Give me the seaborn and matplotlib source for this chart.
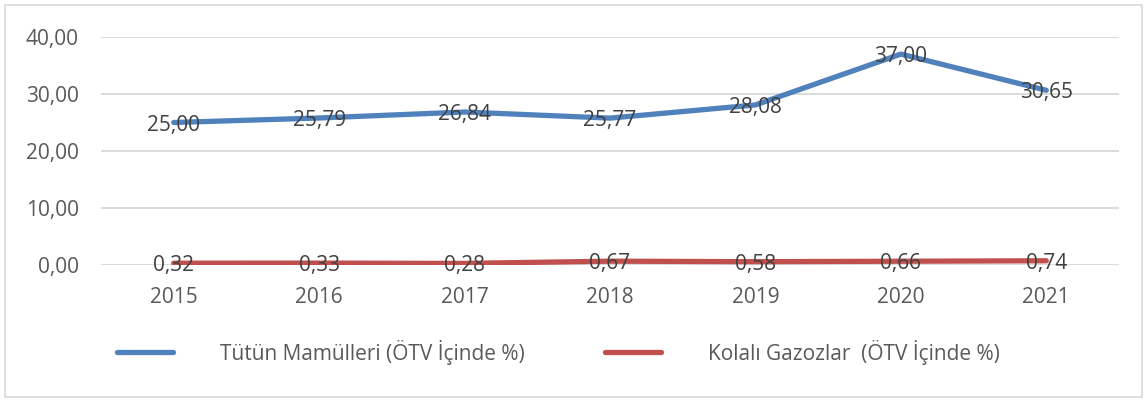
import matplotlib
matplotlib.use("Agg")
import matplotlib.pyplot as plt
import seaborn as sns
import pandas as pd
from matplotlib.patches import Rectangle

years = ["2015", "2016", "2017", "2018", "2019", "2020", "2021"]
tutun = [25.00, 25.79, 26.84, 25.77, 28.08, 37.00, 30.65]
kola = [0.32, 0.33, 0.28, 0.67, 0.58, 0.66, 0.74]
series_names = ["Tütün Mamülleri (ÖTV İçinde %)", "Kolalı Gazozlar  (ÖTV İçinde %)"]
yticks = [0, 10, 20, 30, 40]

df = pd.DataFrame({
    "year": years * 2,
    "value": tutun + kola,
    "series": [series_names[0]] * len(years) + [series_names[1]] * len(years),
})

sns.set_theme(style="white")
plt.rcParams['font.family'] = ['Open Sans', 'DejaVu Sans']

FS = 15
fig = plt.figure(figsize=(11.47, 4.01), dpi=100)
ax = fig.add_axes([101/1147, 1-265/401, (1119-101)/1147, (265-37)/401])

palette = {series_names[0]: "#4F81BD", series_names[1]: "#C0504D"}
sns.lineplot(data=df, x="year", y="value", hue="series", palette=palette,
             linewidth=3.8, sort=False, ax=ax, legend=True, zorder=3)
for l in ax.get_lines():
    l.set_solid_capstyle("round")

ax.set_xlim(-0.5, len(years) - 0.5)
ax.set_ylim(0, 40)
ax.set_yticks(yticks)
ax.set_yticklabels([f"{v:.2f}".replace(".", ",") for v in yticks])
ax.grid(axis="y", color="#D9D9D9", linewidth=1.3, zorder=0)
ax.grid(axis="x", visible=False)
for s in ax.spines.values():
    s.set_visible(False)
ax.tick_params(axis="y", length=0, pad=16, labelsize=FS, labelcolor="#595959")
ax.tick_params(axis="x", length=0, pad=16, labelsize=FS, labelcolor="#595959")
ax.set_xlabel("")
ax.set_ylabel("")

for vals in (tutun, kola):
    for i, v in enumerate(vals):
        ax.text(i, v, f"{v:.2f}".replace(".", ","), ha="center", va="center_baseline",
                fontsize=FS, color="#404040", zorder=4)

handles, labels = ax.get_legend_handles_labels()
ax.get_legend().remove()
for h in handles:
    h.set_solid_capstyle("round")
leg = fig.legend(handles, labels, loc="center", bbox_to_anchor=(0.487, 0.122),
                 ncol=2, frameon=False, fontsize=FS, handlelength=2.69,
                 handletextpad=2.26, columnspacing=3.84, labelcolor="#595959")

fig.patches.append(Rectangle((5/1147, 4/401), 1137/1147, 392/401, transform=fig.transFigure,
                             fill=False, edgecolor="#D9D9D9", linewidth=1.2))

fig.savefig("out.png", dpi=100, facecolor="white")
